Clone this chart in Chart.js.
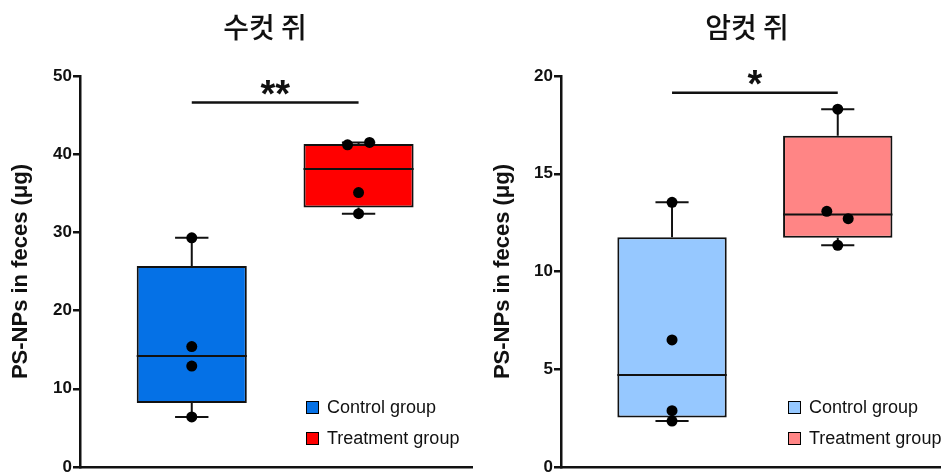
<!DOCTYPE html>
<html>
<head>
<meta charset="utf-8">
<script src="https://cdn.jsdelivr.net/npm/chart.js@4.4.0/dist/chart.umd.min.js"></script>
<style>
html, body { margin: 0; padding: 0; background: #fff; overflow: hidden; }
body { width: 946px; height: 473px; position: relative; font-family: "Liberation Sans", Arial, sans-serif; }
.panel { position: absolute; top: 0; height: 480px; }
#malePanel { left: 0; width: 480px; }
#femalePanel { left: 480px; width: 466px; }
.title { position: absolute; top: 12px; font-family: "Noto Sans CJK KR", sans-serif; font-size: 28px; line-height: 28px; font-weight: 500; color: #111; white-space: nowrap; transform: translateX(-50%); }
.legend { position: absolute; top: 392px; font-size: 18px; color: #111; }
.legend div { height: 31px; line-height: 31px; white-space: nowrap; }
.legend span.sw { display: inline-block; width: 11px; height: 11px; border: 1.5px solid #000; margin-right: 8px; vertical-align: -1px; }
</style>
</head>
<body>
<div class="panel" id="malePanel">
  <canvas id="maleChart" width="480" height="480"></canvas>
  <div class="title" style="left:265px">수컷 쥐</div>
  <div class="legend" id="maleLegend" style="left:306px"></div>
</div>
<div class="panel" id="femalePanel">
  <canvas id="femaleChart" width="466" height="480"></canvas>
  <div class="title" style="left:267px">암컷 쥐</div>
  <div class="legend" id="femaleLegend" style="left:308px"></div>
</div>
<script>
// group names and positions on the x axis
var groups = ['Control group', 'Treatment group'];
var groupPos = [1, 2];

// male (수컷 쥐) - box stats per group: control, treatment
var maleMin = [6.4, 32.4];
var maleQ1 = [8.2, 33.2];
var maleMedian = [14.2, 38.1];
var maleQ3 = [25.7, 41.3];
var maleMax = [29.3, 41.5];
// individual animals
var maleCtrlPoints = [29.3, 15.4, 12.9, 6.4];
var maleCtrlJitter = [0, 0, 0, 0];
var maleTrtPoints = [41.2, 41.5, 35.1, 32.4];
var maleTrtJitter = [-0.066, 0.066, 0, 0];
var maleSigLine = 46.6;
var maleSigText = '**';
var maleSigTextY = 48.5;
var maleTicks = [0, 10, 20, 30, 40, 50];

// female (암컷 쥐)
var femaleMin = [2.35, 11.34];
var femaleQ1 = [2.53, 11.72];
var femaleMedian = [4.71, 12.91];
var femaleQ3 = [11.75, 16.94];
var femaleMax = [13.54, 18.3];
var femaleCtrlPoints = [13.54, 6.5, 2.88, 2.35];
var femaleCtrlJitter = [0, 0, 0, 0];
var femaleTrtPoints = [18.3, 13.08, 12.7, 11.34];
var femaleTrtJitter = [0, -0.066, 0.063, 0];
var femaleSigLine = 19.14;
var femaleSigText = '*';
var femaleSigTextY = 19.9;
var femaleTicks = [0, 5, 10, 15, 20];

var BOX_HALF = 0.33;
var CAP_HALF = 0.1;

// draws the significance stars centred (by ink) on the given value
var sigPlugin = {
	id: 'sigText',
	afterDatasetsDraw: function(chart, args, opts) {
		var ctx = chart.ctx;
		ctx.save();
		ctx.font = 'bold 38px "Liberation Sans", Arial';
		ctx.fillStyle = '#111';
		ctx.textAlign = 'center';
		ctx.textBaseline = 'alphabetic';
		var m = ctx.measureText(opts.text);
		var x = chart.scales.x.getPixelForValue((groupPos[0] + groupPos[1]) / 2);
		var y = chart.scales.y.getPixelForValue(opts.y);
		ctx.fillText(opts.text, x, y + (m.actualBoundingBoxAscent - m.actualBoundingBoxDescent) / 2);
		ctx.restore();
	}
};

function whiskerData(pos, min, q1, med, q3, max) {
	return [
		{x: pos - CAP_HALF, y: max}, {x: pos + CAP_HALF, y: max}, {x: pos, y: null},
		{x: pos, y: max}, {x: pos, y: q3}, {x: pos, y: null},
		{x: pos, y: q1}, {x: pos, y: min}, {x: pos, y: null},
		{x: pos - CAP_HALF, y: min}, {x: pos + CAP_HALF, y: min}, {x: pos, y: null},
		{x: pos - BOX_HALF, y: med}, {x: pos + BOX_HALF, y: med}
	];
}

function pointData(pos, values, jitter) {
	var out = [];
	for (var i = 0; i < values.length; i++) {
		out.push({x: pos + jitter[i], y: values[i]});
	}
	return out;
}

function makeChart(canvasId, legendId, s) {
	var datasets = [];
	for (var g = 0; g < groups.length; g++) {
		datasets.push({
			type: 'bar',
			label: groups[g],
			data: [{x: groupPos[g], y: [s.q1[g], s.q3[g]]}],
			backgroundColor: s.colors[g],
			borderColor: '#111',
			borderWidth: 2,
			borderSkipped: false,
			grouped: false,
			barPercentage: BOX_HALF * 2,
			categoryPercentage: 1,
			order: 3
		});
	}
	for (var g = 0; g < groups.length; g++) {
		datasets.push({
			type: 'line',
			label: 'whisker',
			data: whiskerData(groupPos[g], s.min[g], s.q1[g], s.median[g], s.q3[g], s.max[g]),
			borderColor: '#111',
			borderWidth: 2,
			pointRadius: 0,
			spanGaps: false,
			fill: false,
			order: 2
		});
	}
	datasets.push({
		type: 'line',
		label: 'sig',
		data: [{x: groupPos[0], y: s.sig}, {x: groupPos[1], y: s.sig}],
		borderColor: '#111',
		borderWidth: 2.5,
		pointRadius: 0,
		fill: false,
		order: 2
	});
	datasets.push({
		type: 'scatter',
		label: 'points',
		data: pointData(groupPos[0], s.ctrlPts, s.ctrlJit).concat(pointData(groupPos[1], s.trtPts, s.trtJit)),
		backgroundColor: '#000',
		borderColor: '#000',
		pointRadius: 5.5,
		borderWidth: 0,
		order: 1
	});

	var chart = new Chart(document.getElementById(canvasId), {
		type: 'bar',
		data: {datasets: datasets},
		plugins: [sigPlugin],
		options: {
			responsive: false,
			animation: false,
			layout: {padding: {left: 8, top: 76, right: s.padRight, bottom: 5}},
			plugins: {
				legend: {display: false},
				tooltip: {enabled: false},
				sigText: {text: s.sigText, y: s.sigTextY}
			},
			scales: {
				x: {
					type: 'linear',
					offset: false,
					min: 0.33,
					max: s.xMax,
					afterBuildTicks: function(axis) {
						axis.ticks = groupPos.map(function(v) { return {value: v}; });
					},
					ticks: {display: false},
					grid: {display: false},
					border: {display: true, color: '#111', width: 2.5}
				},
				y: {
					min: 0,
					max: s.ticks[s.ticks.length - 1],
					afterBuildTicks: function(axis) {
						axis.ticks = s.ticks.map(function(v) { return {value: v}; });
					},
					afterFit: function(axis) { axis.width = s.axisWidth; },
					ticks: {
						color: '#111',
						padding: 1,
						font: {family: '"Liberation Sans", Arial', size: 17, weight: 'bold'}
					},
					grid: {display: true, drawOnChartArea: false, drawTicks: true, tickLength: 7, color: '#111', lineWidth: 2.5},
					border: {display: true, color: '#111', width: 2.5},
					title: {
						display: true,
						text: 'PS-NPs in feces (μg)',
						color: '#111',
						padding: {top: s.titlePad, bottom: 0},
						font: {family: '"Liberation Sans", Arial', size: 22, weight: 'bold'}
					}
				}
			}
		}
	});

	// legend inside the plot, built from the box datasets
	var legend = document.getElementById(legendId);
	chart.data.datasets.forEach(function(ds) {
		if (ds.type !== 'bar') return;
		var row = document.createElement('div');
		var sw = document.createElement('span');
		sw.className = 'sw';
		sw.style.background = ds.backgroundColor;
		row.appendChild(sw);
		row.appendChild(document.createTextNode(ds.label));
		legend.appendChild(row);
	});
	return chart;
}

makeChart('maleChart', 'maleLegend', {
	min: maleMin, q1: maleQ1, median: maleMedian, q3: maleQ3, max: maleMax,
	ctrlPts: maleCtrlPoints, ctrlJit: maleCtrlJitter, trtPts: maleTrtPoints, trtJit: maleTrtJitter,
	sig: maleSigLine, sigText: maleSigText, sigTextY: maleSigTextY, ticks: maleTicks,
	colors: ['#0571e6', '#ff0000'], xMax: 2.68, padRight: 8, axisWidth: 72, titlePad: 0
});

makeChart('femaleChart', 'femaleLegend', {
	min: femaleMin, q1: femaleQ1, median: femaleMedian, q3: femaleQ3, max: femaleMax,
	ctrlPts: femaleCtrlPoints, ctrlJit: femaleCtrlJitter, trtPts: femaleTrtPoints, trtJit: femaleTrtJitter,
	sig: femaleSigLine, sigText: femaleSigText, sigTextY: femaleSigTextY, ticks: femaleTicks,
	colors: ['#96c8ff', '#ff8585'], xMax: 2.62, padRight: 0, axisWidth: 73, titlePad: 2
});
</script>
</body>
</html>
